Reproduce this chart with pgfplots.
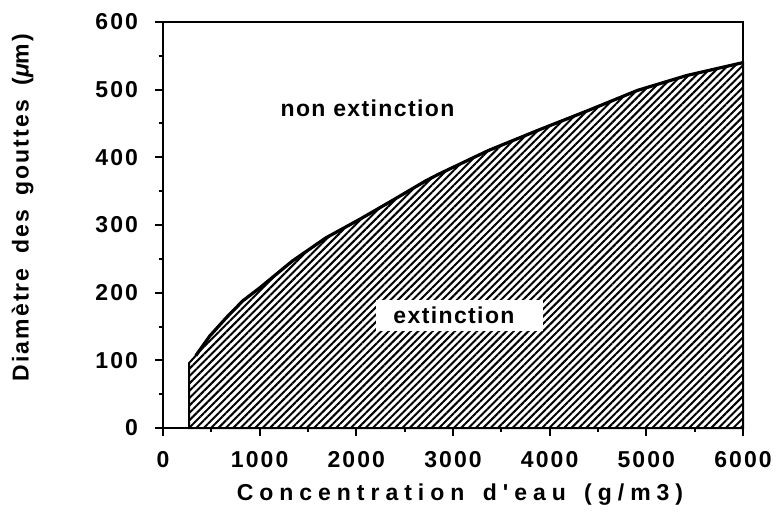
\documentclass[border=0pt]{standalone}
\usepackage{fontspec}
\setmainfont{Liberation Sans}[BoldFont={Liberation Sans Bold}]
\newfontfamily\tickfont{Liberation Sans Bold}[LetterSpace=9]
\newfontfamily\labfont{Liberation Sans Bold}[LetterSpace=6]
\newfontfamily\xlabfont{Liberation Sans Bold}[LetterSpace=26]
\newfontfamily\ylabfont{Liberation Sans Bold}[LetterSpace=9]
\usepackage{pgfplots}
\pgfplotsset{compat=1.18}
\usetikzlibrary{patterns.meta}
\begin{document}
\begin{tikzpicture}
\begin{axis}[name=ax,
  scale only axis, width=290pt, height=203pt,
  xmin=0, xmax=6000, ymin=0, ymax=600,
  xtick={0,1000,...,6000}, ytick={0,100,...,600},
  minor x tick num=1, minor y tick num=1,
  tick align=outside, tick pos=left,
  major tick length=4pt, minor tick length=2.2pt,
  every tick/.style={line width=1pt, black},
  axis line style={line width=1.3pt},
  scaled x ticks=false,
  /pgf/number format/1000 sep={},
  /pgf/number format/assume math mode=true,
  ticklabel style={font=\tickfont\fontsize{11.5}{13}\selectfont},
  xticklabel style={yshift=-4pt},
  yticklabel style={xshift=-5pt},
  xlabel={\xlabfont\fontsize{11.5}{13}\selectfont Concentration\hspace{3pt} d'eau\hspace{3pt} (g/m3)},
  ylabel={\ylabfont\fontsize{11.5}{13}\selectfont Diamètre\hspace{3pt} des\hspace{3pt} gouttes\hspace{3pt} ({\itshape μ}m)},
  xlabel style={at={(axis description cs:0.512,-0.165)}, anchor=center},
  ylabel style={at={(axis description cs:-0.242,0.543)}, anchor=center},
  clip=false,
]
\addplot[draw=black, line width=1pt,
  pattern={Lines[angle=45, distance=2.6pt, line width=1pt]}]
  coordinates {(270,0) (270,96) (340,107) (484,136) (655,163) (826,188) (1000,207) (1170,227) (1340,247) (1513,264) (1685,281) (2030,308) (2370,336) (2715,365) (2850,375) (3365,410) (3880,440) (4395,469) (4910,499) (5420,521) (6000,540) (6000,0)} -- cycle;
\addplot[draw=black, line width=1.6pt, line join=round]
  coordinates {(340,107) (484,136) (655,163) (826,188) (1000,207) (1170,227) (1340,247) (1513,264) (1685,281) (2030,308) (2370,336) (2715,365) (2850,375) (3365,410) (3880,440) (4395,469) (4910,499) (5420,521) (6000,540)};
\node[fill=white, inner xsep=0pt, minimum width=83.5pt, minimum height=15.5pt, anchor=center]
  at (axis cs:3072,167) {\labfont\fontsize{11.5}{13}\selectfont\kern-6pt extinction};
\node[anchor=center] at (axis cs:2115,473) {\labfont\fontsize{11.5}{13}\selectfont non extinction};
\end{axis}
\pgfresetboundingbox
\path (ax.south west) ++(-81.5pt,-43pt) coordinate (bl);
\path (ax.north east) ++(19pt,11pt) coordinate (tr);
\path[use as bounding box] (bl) rectangle (tr);
\end{tikzpicture}
\end{document}
